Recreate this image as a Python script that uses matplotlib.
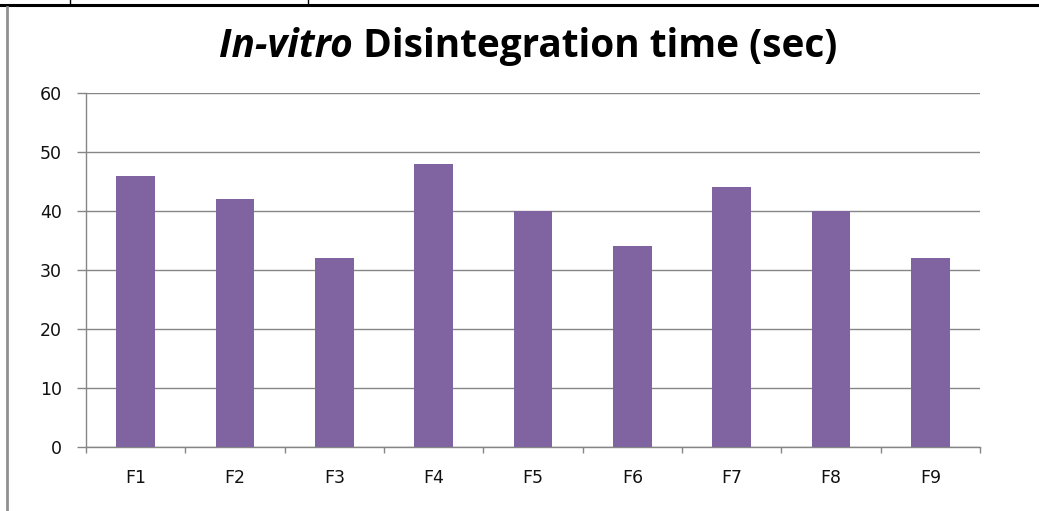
import numpy as np
import matplotlib
matplotlib.use('Agg')
import matplotlib.pyplot as plt
from matplotlib.lines import Line2D

plt.rcParams['font.family'] = ['DejaVu Sans']

# Disintegration time per formulation (sec)
formulations = ['F1', 'F2', 'F3', 'F4', 'F5', 'F6', 'F7', 'F8', 'F9']
disintegrationTime = [46, 42, 32, 48, 40, 34, 44, 40, 32]

barColor = '#8064A2'
axisColor = '#868686'

W, H = 1039, 511
fig = plt.figure(figsize=(W / 100.0, H / 100.0), dpi=100, facecolor='white')

def px(x, y):
	return x / float(W), 1.0 - y / float(H)

##########################################################################
# Axes
x0, y0 = px(86, 447)
x1, y1 = px(980, 93)
ax = fig.add_axes([x0, y0, x1 - x0, y1 - y0])

x = np.arange(1, len(formulations) + 1)
ax.bar(x, disintegrationTime, width=0.39, color=barColor, zorder=3)

ax.set_xlim(0.5, len(formulations) + 0.5)
ax.set_ylim(0, 60)
ax.set_yticks(np.arange(0, 61, 10))
ax.yaxis.grid(True, color=axisColor, linewidth=1, zorder=0)

# category boundaries as major ticks, names as minor
ax.set_xticks(np.arange(0.5, len(formulations) + 1, 1.0))
ax.set_xticklabels([])
ax.set_xticks(x, minor=True)
ax.set_xticklabels(formulations, minor=True)
ax.tick_params(axis='x', which='major', length=4.5, width=1, color=axisColor, direction='out')
ax.tick_params(axis='x', which='minor', length=0, pad=16, labelsize=12.5, labelcolor='#111111')
ax.tick_params(axis='y', length=6.5, width=1, color=axisColor, direction='out',
	pad=11, labelsize=12.5, labelcolor='#111111')

for side in ['top', 'right']:
	ax.spines[side].set_visible(False)
for side in ['left', 'bottom']:
	ax.spines[side].set_color(axisColor)
	ax.spines[side].set_linewidth(1)

##########################################################################
# Title (italic part + upright part)
bx, by = px(218, 57)
t1 = fig.text(bx, by, 'In-vitro', fontsize=20, fontweight='bold', fontstyle='italic',
	family='Open Sans', va='baseline', ha='left')
t2 = fig.text(bx, by, ' Disintegration time (sec)', fontsize=20, fontweight='bold',
	family='Open Sans', va='baseline', ha='left')
r = fig.canvas.get_renderer()
w1 = t1.get_window_extent(r).width
w2 = t2.get_window_extent(r).width
scale = 620.0 / (w1 + w2)
fs = 20 * scale
t1.set_fontsize(fs)
t2.set_fontsize(fs)
w1 = t1.get_window_extent(r).width
w2 = t2.get_window_extent(r).width
start = 528 - (w1 + w2) / 2.0
t1.set_x(start / W)
t2.set_x((start + w1) / W)

##########################################################################
# Surrounding table borders
fig.add_artist(Line2D([0, 1], [px(0, 5)[1]] * 2, color='black', linewidth=2.2))
for xv in [70, 308]:
	fig.add_artist(Line2D([px(xv, 0)[0]] * 2, [px(0, 0)[1], px(0, 5)[1]], color='black', linewidth=1))
fig.add_artist(Line2D([px(7, 0)[0]] * 2, [px(0, 7)[1], 0], color='#909090', linewidth=2))

plt.savefig('out.png', dpi=100, facecolor='white')
